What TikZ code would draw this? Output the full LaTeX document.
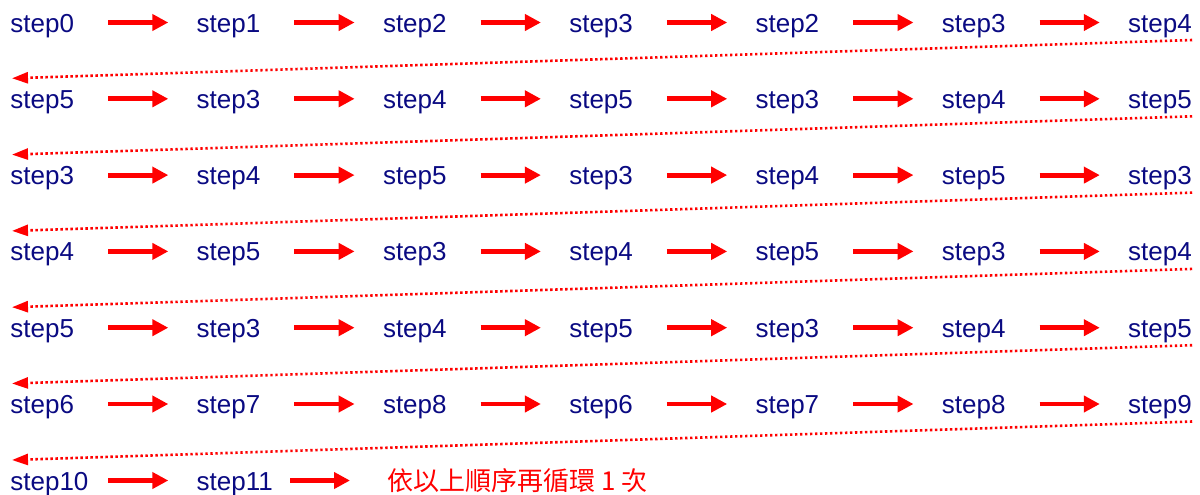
\documentclass[tikz,border=0pt]{standalone}
\usepackage{fontspec}
\setmainfont{Liberation Sans}
\newfontfamily\cjkfont{Noto Sans CJK TC}
\usetikzlibrary{arrows.meta}
\definecolor{stepblue}{RGB}{10,10,130}
\definecolor{arrowred}{RGB}{255,0,0}

\begin{document}
\begin{tikzpicture}[x=0.5pt, y=-0.5pt,
    steplabel/.style={anchor=base west, inner sep=0pt, text=stepblue, font=\fontsize{13pt}{15pt}\selectfont},
    fwd/.style={draw=arrowred, line width=2.4pt, -{Triangle[length=8pt,width=8pt]}},
    back/.style={draw=arrowred, line width=1.3pt, dash pattern=on 1.2pt off 1.3pt, -{Triangle[length=8pt,width=5.5pt]}}]

\useasboundingbox (0,0) rectangle (1200,494);

% 各行のステップ
\foreach \r/\list in {
    1/{0,1,2,3,2,3,4},
    2/{5,3,4,5,3,4,5},
    3/{3,4,5,3,4,5,3},
    4/{4,5,3,4,5,3,4},
    5/{5,3,4,5,3,4,5},
    6/{6,7,8,6,7,8,9}} {
    \foreach \n [count=\c from 0] in \list {
        \node[steplabel] (s\r-\c) at ({10+186.3*\c}, {32+76.3*(\r-1)}) {step\n};
    }
    % 横の矢印
    \foreach \c [evaluate=\c as \d using int(\c+1)] in {0,...,5} {
        \draw[fwd] ([shift={(98,-9.5)}]s\r-\c.base west) -- ([shift={(-28,-9.5)}]s\r-\d.base west);
    }
}

% 最後の行
\node[steplabel] (s7-0) at (10, 490) {step10};
\node[steplabel] (s7-1) at (196.3, 490) {step11};
\node[anchor=base west, inner sep=0pt, text=arrowred, font=\cjkfont\fontsize{13pt}{15pt}\selectfont] (note) at (387, 490) {依以上順序再循環 1 次};
\draw[fwd] ([shift={(98,-9.5)}]s7-0.base west) -- ([shift={(-28,-9.5)}]s7-1.base west);
\draw[fwd] ([shift={(94,-9.5)}]s7-1.base west) -- ([shift={(-37,-9.5)}]note.base west);

% 折り返しの点線
\foreach \r [evaluate=\r as \q using int(\r+1)] in {1,...,6} {
    \draw[back] ([shift={(0,8)}]s\r-6.base east) -- ([shift={(2,-30)}]s\q-0.base west);
}
\end{tikzpicture}
\end{document}
